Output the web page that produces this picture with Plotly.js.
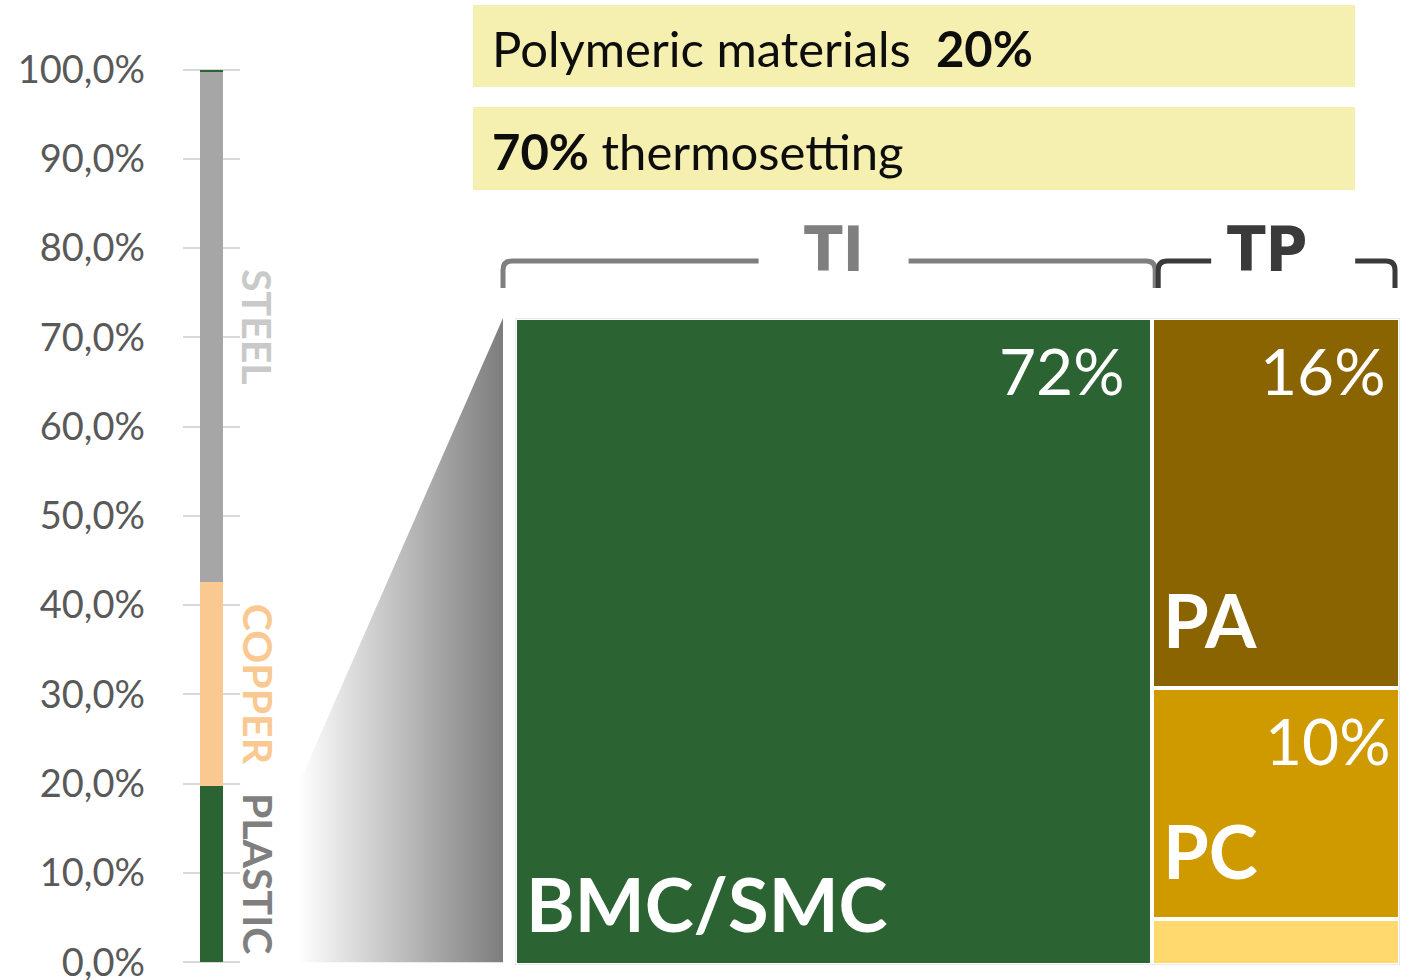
<!DOCTYPE html>
<html>
<head>
<meta charset="utf-8">
<script src="https://cdn.plot.ly/plotly-3.0.1.min.js"></script>
<style>
  html, body { margin: 0; padding: 0; background: #ffffff; }
  #chart { width: 1414px; height: 980px; }
</style>
</head>
<body>
<div id="chart"></div>
<script>
// Material mix of the component (mass share, %), stacked bottom to top
const materials = ['PLASTIC', 'COPPER', 'STEEL', 'OTHER'];
const materialShare = [19.8, 22.8, 57.1, 0.3];
const materialColors = ['#2b6332', '#fac991', '#a6a6a6', '#2b6332'];
const materialLabelColors = ['#7f7f7f', '#fac991', '#c9c9c9', null];
const yTicks = [0, 10, 20, 30, 40, 50, 60, 70, 80, 90, 100];
const yTickText = yTicks.map(v => v.toFixed(1).replace('.', ',') + '%');

// Breakdown of the plastic fraction (share of polymers, %)
const polymerGroups = ['TI', 'TP'];
const polymerGroupColors = ['#7f7f7f', '#3a3a3a'];
const polymers = ['BMC/SMC', 'PA', 'PC', 'Other'];          // listed top to bottom inside each group
const polymerGroupOf = ['TI', 'TP', 'TP', 'TP'];
const polymerShare = [72, 16, 10, 2];
const polymerColors = ['#2b6332', '#8a6400', '#cf9a00', '#ffd86e'];
const polymerPctLabels = ['72%', '16%', '10%', ''];
const polymerNameLabels = ['BMC/SMC', 'PA', 'PC', ''];

// Header boxes
const headerLines = [
  'Polymeric materials\u00a0\u00a0<b>20%</b>',
  '<b>70%</b> thermosetting'
];

// ---- page geometry (pixels of the 1414 x 980 canvas) ----
const W = 1414, H = 980;
const fx = p => p / W;
const fy = p => (H - p) / H;

// share axis: 0 % sits at y = 962.3 px, 100 % at y = 69.5 px; one extra unit of room at each end
const pxPerPct = (962.3 - 69.5) / 100;
const yRange = [-1, 101];
const barDomX = [fx(183), fx(240)];
const barDomY = [fy(962.3 + pxPerPct), fy(69.5 - pxPerPct)];
const pctToPaper = v => fy(962.3 - v * pxPerPct);
const mosDomX = [fx(515), fx(1400)];
const mosDomY = [fy(965), fy(318)];
const mosToPaper = v => mosDomX[0] + v / 100 * (mosDomX[1] - mosDomX[0]);

const FONT = 'Lato, "Open Sans", sans-serif';
const NARROW = '"Liberation Sans Narrow", "DejaVu Sans Condensed", sans-serif';

const traces = [];
const annotations = [];
const shapes = [];

// ---- stacked material bar ----
let cum = 0;
materials.forEach((m, i) => {
  traces.push({
    type: 'bar', xaxis: 'x', yaxis: 'y',
    x: ['mix'], y: [materialShare[i]], width: [0.4], name: m,
    marker: { color: materialColors[i], line: { width: 0 } },
    hoverinfo: 'skip'
  });
  if (materialLabelColors[i]) {
    annotations.push({
      xref: 'x', yref: 'y', x: 0, y: cum + materialShare[i] / 2,
      xshift: 46.5, text: m, showarrow: false, textangle: 90,
      xanchor: 'center', yanchor: 'middle',
      font: { family: FONT, size: 41, color: materialLabelColors[i], weight: 700 }
    });
  }
  cum += materialShare[i];
});

// ---- polymer mosaic: column width = group share, heights normalised per column ----
const groupTotal = {}, groupOffset = {};
let off = 0;
polymerGroups.forEach(g => {
  groupTotal[g] = polymers.reduce((s, p, i) => s + (polymerGroupOf[i] === g ? polymerShare[i] : 0), 0);
  groupOffset[g] = off;
  off += groupTotal[g];
});

const cells = polymers.map(() => ({}));
polymerGroups.forEach(g => {
  const idx = polymers.map((p, i) => i).filter(i => polymerGroupOf[i] === g).reverse();   // bottom first
  let base = 0;
  idx.forEach(i => {
    const tot = groupTotal[g];
    traces.push({
      type: 'bar', xaxis: 'x2', yaxis: 'y2',
      x: [groupOffset[g] + tot / 2], y: [polymerShare[i]], width: [tot], name: polymers[i],
      marker: { color: polymerColors[i], line: { color: '#ffffff', width: 4 } },
      hoverinfo: 'skip'
    });
    cells[i] = {
      left: groupOffset[g], right: groupOffset[g] + tot,
      bottom: 100 * base / tot, top: 100 * (base + polymerShare[i]) / tot
    };
    base += polymerShare[i];
  });
});

// label offsets inside each cell (pixels)
const pctShift = [[-25, -12], [-12, -12], [-7, -12], [0, 0]];
const nameShift = [[9, 15], [9, 22], [9, 22], [0, 0]];
polymers.forEach((p, i) => {
  const c = cells[i];
  if (polymerPctLabels[i]) {
    annotations.push({
      xref: 'x2', yref: 'y2', x: c.right, y: c.top, xanchor: 'right', yanchor: 'top',
      xshift: pctShift[i][0], yshift: pctShift[i][1], showarrow: false,
      text: polymerPctLabels[i], font: { family: FONT, size: 64, color: '#ffffff' }
    });
  }
  if (polymerNameLabels[i]) {
    annotations.push({
      xref: 'x2', yref: 'y2', x: c.left, y: c.bottom, xanchor: 'left', yanchor: 'bottom',
      xshift: nameShift[i][0], yshift: nameShift[i][1], showarrow: false,
      text: polymerNameLabels[i], font: { family: FONT, size: 74, color: '#ffffff', weight: 700 }
    });
  }
});

// thin frame round the mosaic
shapes.push({
  type: 'rect', xref: 'x2', yref: 'y2', x0: 0, x1: 100, y0: 0, y1: 100,
  line: { color: '#e2e2e2', width: 1.5 }, fillcolor: 'rgba(0,0,0,0)', layer: 'above'
});

// ---- group brackets above the mosaic ----
const yh = fy(261), yb = fy(288), ry = 9 / H, rx = 9 / W;
const bracketEnds = { TI: [-12, 3], TP: [6, -5] };     // pixel trims at the ends
const bracketGap = { TI: 75, TP: 72 };
const labelNudge = { TI: 0, TP: -1 };
polymerGroups.forEach((g, k) => {
  const x0 = mosToPaper(groupOffset[g]) + bracketEnds[g][0] / W;
  const x1 = mosToPaper(groupOffset[g] + groupTotal[g]) + bracketEnds[g][1] / W;
  const mid = groupOffset[g] + groupTotal[g] / 2;
  const gm = mosToPaper(mid + (g === 'TP' ? 0.8 : 0));
  const gl = gm - bracketGap[g] / W, gr = gm + bracketGap[g] / W;
  shapes.push({
    type: 'path', xref: 'paper', yref: 'paper',
    path: `M ${x0} ${yb} L ${x0} ${yh - ry} Q ${x0} ${yh} ${x0 + rx} ${yh} L ${gl} ${yh} ` +
          `M ${gr} ${yh} L ${x1 - rx} ${yh} Q ${x1} ${yh} ${x1} ${yh - ry} L ${x1} ${yb}`,
    line: { color: polymerGroupColors[k], width: 5 }
  });
  annotations.push({
    xref: 'x2', yref: 'paper', x: mid + labelNudge[g], y: fy(249), xanchor: 'center', yanchor: 'middle',
    showarrow: false, text: g,
    font: { family: NARROW, size: 63, color: polymerGroupColors[k], weight: 700 }
  });
});

// ---- shaded connector from the plastic slice to the mosaic ----
const plasticTop = pctToPaper(materialShare[0]);
const cxl = fx(298), cxr = mosDomX[0] - 12 / W;
traces.push({
  type: 'scatter', xaxis: 'x3', yaxis: 'y3', mode: 'lines',
  x: [cxl, cxl, cxr, cxr, cxl],
  y: [pctToPaper(0), plasticTop, mosDomY[1], pctToPaper(0), pctToPaper(0)],
  fill: 'toself', line: { width: 0, color: 'rgba(0,0,0,0)' },
  fillgradient: { type: 'horizontal', colorscale: [[0, '#ffffff'], [1, '#7d7d7d']] },
  hoverinfo: 'skip', showlegend: false
});

// ---- header boxes ----
const boxRows = [[5, 87], [107, 190]];
headerLines.forEach((t, i) => {
  shapes.push({
    type: 'rect', xref: 'paper', yref: 'paper',
    x0: fx(473), x1: fx(1355), y0: fy(boxRows[i][1]), y1: fy(boxRows[i][0]),
    fillcolor: '#f5efb0', line: { width: 0 }, layer: 'below'
  });
  annotations.push({
    xref: 'paper', yref: 'paper', x: fx(490), y: fy((boxRows[i][0] + boxRows[i][1]) / 2 + 2),
    xanchor: 'left', yanchor: 'middle', showarrow: false, text: t,
    font: { family: FONT, size: 49, color: '#0d0d0d' }
  });
});

const layout = {
  width: W, height: H,
  margin: { l: 0, r: 0, t: 0, b: 0, pad: 0 },
  paper_bgcolor: '#ffffff', plot_bgcolor: 'rgba(0,0,0,0)',
  showlegend: false, barmode: 'stack', barnorm: 'percent',
  font: { family: FONT },
  xaxis: { domain: barDomX, type: 'category', range: [-0.5, 0.5], visible: false, fixedrange: true },
  yaxis: {
    domain: barDomY, range: yRange, tickmode: 'array', tickvals: yTicks, ticktext: yTickText,
    showgrid: true, gridcolor: '#d9d9d9', gridwidth: 2, zeroline: false, showline: false,
    ticks: '', ticklabelstandoff: 37, ticklabeloverflow: 'allow',
    tickfont: { family: FONT, size: 38, color: '#595959' }, fixedrange: true
  },
  xaxis2: { domain: mosDomX, range: [0, 100], visible: false, anchor: 'y2', fixedrange: true },
  yaxis2: { domain: mosDomY, range: [0, 100], visible: false, anchor: 'x2', fixedrange: true },
  xaxis3: { domain: [0, 1], range: [0, 1], visible: false, anchor: 'y3', fixedrange: true },
  yaxis3: { domain: [0, 1], range: [0, 1], visible: false, anchor: 'x3', fixedrange: true },
  shapes: shapes,
  annotations: annotations
};

Plotly.newPlot('chart', traces, layout, { displayModeBar: false, staticPlot: true });
</script>
</body>
</html>
